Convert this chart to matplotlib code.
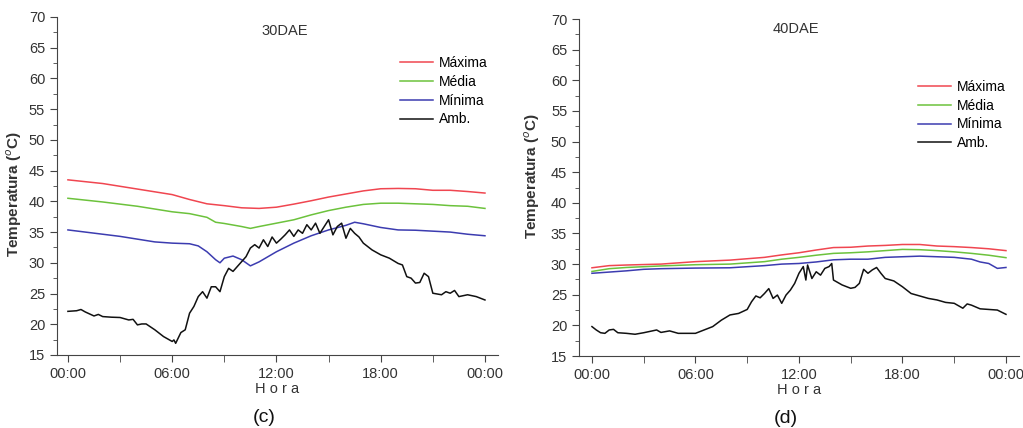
import matplotlib.pyplot as plt
from matplotlib.ticker import MultipleLocator, FixedLocator

plt.rcParams['font.family'] = ['Liberation Sans', 'DejaVu Sans']

# ---- 30DAE (c) ----
t_c_max = [0, 2, 4, 6, 7, 8, 9, 10, 11, 12, 13, 14, 15, 16, 17, 18, 19, 20, 21, 22, 23, 24]
c_max = [43.5, 42.9, 42.0, 41.1, 40.3, 39.6, 39.3, 38.95, 38.85, 39.05, 39.55, 40.1,
         40.7, 41.2, 41.7, 42.05, 42.1, 42.05, 41.8, 41.8, 41.6, 41.35]

t_c_med = [0, 2, 4, 6, 7, 8, 8.5, 9, 10, 10.5, 11, 12, 13, 14, 15, 16, 17, 18, 19, 20, 21, 22, 23, 24]
c_med = [40.5, 39.9, 39.2, 38.3, 38.0, 37.4, 36.6, 36.4, 35.9, 35.6, 35.9, 36.45, 37.0,
         37.8, 38.5, 39.05, 39.5, 39.7, 39.7, 39.6, 39.5, 39.3, 39.2, 38.85]

t_c_min = [0, 1, 2, 3, 4, 5, 6, 7, 7.5, 8, 8.5, 8.75, 9, 9.5, 10, 10.5, 11, 12, 13, 14,
           15, 16, 16.5, 17, 18, 19, 20, 21, 22, 23, 24]
c_min = [35.35, 35.0, 34.65, 34.3, 33.85, 33.4, 33.2, 33.1, 32.75, 31.8, 30.5, 30.0,
         30.75, 31.1, 30.5, 29.5, 30.15, 31.8, 33.2, 34.4, 35.35, 36.1, 36.6, 36.35,
         35.75, 35.35, 35.3, 35.15, 35.0, 34.65, 34.4]

t_c_amb = [0, 0.5, 0.75, 1, 1.5, 1.75, 2, 2.5, 3, 3.5, 3.75, 4, 4.25, 4.5, 5, 5.5, 6, 6.1,
           6.2, 6.5, 6.75, 7, 7.25, 7.5, 7.75, 8, 8.25, 8.5, 8.75, 9, 9.25, 9.5, 9.75, 10,
           10.25, 10.5, 10.75, 11, 11.25, 11.5, 11.75, 12, 12.25, 12.5, 12.75, 13, 13.25,
           13.5, 13.75, 14, 14.25, 14.5, 14.75, 15, 15.25, 15.5, 15.75, 16, 16.25, 16.5,
           16.75, 17, 17.5, 18, 18.5, 19, 19.25, 19.5, 19.75, 20, 20.25, 20.5, 20.75, 21,
           21.5, 21.75, 22, 22.25, 22.5, 23, 23.5, 24]
c_amb = [22.1, 22.2, 22.4, 22.0, 21.35, 21.6, 21.25, 21.15, 21.1, 20.7, 20.8, 19.9, 20.05,
         20.05, 19.1, 18.0, 17.2, 17.45, 16.9, 18.65, 19.1, 21.8, 22.9, 24.5, 25.3, 24.25,
         26.1, 26.1, 25.3, 27.75, 29.1, 28.6, 29.4, 30.2, 31.0, 32.4, 32.95, 32.4, 33.75,
         32.65, 34.2, 33.2, 33.85, 34.55, 35.35, 34.3, 35.35, 34.8, 36.2, 35.35, 36.45,
         34.8, 35.9, 37.0, 34.55, 35.9, 36.45, 34.0, 35.6, 34.8, 34.2, 33.2, 32.1, 31.3,
         30.75, 29.9, 29.65, 27.75, 27.5, 26.7, 26.8, 28.3, 27.75, 25.05, 24.8, 25.3,
         25.05, 25.5, 24.5, 24.8, 24.5, 23.95]

# ---- 40DAE (d) ----
t_d_max = [0, 1, 2, 4, 6, 8, 10, 11, 12, 13, 14, 15, 16, 17, 18, 19, 20, 21, 22, 23, 24]
d_max = [29.4, 29.75, 29.85, 30.0, 30.4, 30.65, 31.1, 31.5, 31.85, 32.3, 32.7, 32.75,
         32.95, 33.05, 33.2, 33.2, 32.95, 32.85, 32.7, 32.5, 32.2]

t_d_med = [0, 1, 2, 4, 6, 8, 10, 11, 12, 13, 14, 15, 16, 17, 18, 19, 20, 21, 22, 23, 24]
d_med = [28.8, 29.25, 29.45, 29.7, 29.9, 30.0, 30.4, 30.8, 31.1, 31.45, 31.75, 31.85,
         32.0, 32.2, 32.4, 32.35, 32.2, 32.0, 31.75, 31.45, 31.05]

t_d_min = [0, 1, 2, 3, 4, 6, 8, 10, 11, 12, 13, 14, 15, 16, 17, 18, 19, 20, 21, 22, 22.5,
           23, 23.5, 24]
d_min = [28.5, 28.7, 28.9, 29.15, 29.25, 29.35, 29.4, 29.75, 30.0, 30.1, 30.35, 30.7,
         30.8, 30.8, 31.1, 31.2, 31.3, 31.2, 31.1, 30.8, 30.35, 30.1, 29.3, 29.45]

t_d_amb = [0, 0.25, 0.5, 0.75, 1, 1.25, 1.5, 2, 2.5, 3, 3.5, 3.75, 4, 4.5, 5, 5.5, 6, 6.5,
           7, 7.5, 8, 8.5, 9, 9.25, 9.5, 9.75, 10, 10.25, 10.5, 10.75, 11, 11.25, 11.5,
           11.75, 12, 12.25, 12.4, 12.5, 12.75, 13, 13.25, 13.5, 13.75, 13.9, 14, 14.5, 15,
           15.25, 15.5, 15.75, 16, 16.25, 16.5, 16.75, 17, 17.5, 18, 18.5, 19, 19.5, 20,
           20.5, 21, 21.5, 21.75, 22, 22.5, 23, 23.5, 24]
d_amb = [19.8, 19.25, 18.8, 18.7, 19.25, 19.35, 18.8, 18.7, 18.55, 18.8, 19.1, 19.25,
         18.85, 19.1, 18.7, 18.7, 18.7, 19.25, 19.8, 20.85, 21.7, 21.95, 22.6, 23.85, 24.8,
         24.5, 25.2, 26.0, 24.4, 24.95, 23.6, 24.95, 25.75, 26.85, 28.5, 29.6, 27.4, 29.85,
         27.65, 28.75, 28.2, 29.3, 29.6, 30.1, 27.4, 26.6, 26.05, 26.2, 26.85, 29.15, 28.5,
         29.05, 29.45, 28.5, 27.65, 27.25, 26.3, 25.2, 24.8, 24.4, 24.15, 23.75, 23.6, 22.8,
         23.5, 23.3, 22.7, 22.6, 22.5, 21.8]

labels = ['Máxima', 'Média', 'Mínima', 'Amb.']
colors = ['#f04650', '#6cc23c', '#3c3cb0', '#111111']
hour_ticks = [0, 6, 12, 18, 24]
hour_labels = ['00:00', '06:00', '12:00', '18:00', '00:00']

fig = plt.figure(figsize=(10.23, 4.28), dpi=100)
ax_c = fig.add_axes([0.0557, 0.1706, 0.4311, 0.7897])
ax_d = fig.add_axes([0.566, 0.1682, 0.430, 0.7874])

# axes, title, tag, x start, series, legend anchor, title pos, ylabel pos
panels = [
    (ax_c, '30DAE', '(c)', -0.63,
     [(t_c_max, c_max), (t_c_med, c_med), (t_c_min, c_min), (t_c_amb, c_amb)],
     (0.778, 0.885), (0.517, 0.96), (-0.075, 0.476)),
    (ax_d, '40DAE', '(d)', -0.75,
     [(t_d_max, d_max), (t_d_med, d_med), (t_d_min, d_min), (t_d_amb, d_amb)],
     (0.77, 0.82), (0.493, 0.97), (-0.084, 0.534)),
]

for ax, title, tag, x0, series, leg_pos, tpos, ypos in panels:
    for (t, v), lab, col in zip(series, labels, colors):
        ax.plot(t, v, color=col, lw=1.1, label=lab)
    ax.set_xlim(x0, 24.75)
    ax.set_ylim(15, 70)
    for s in ['top', 'right']:
        ax.spines[s].set_visible(False)
    for s in ['left', 'bottom']:
        ax.spines[s].set_color('#444444')
    ax.xaxis.set_major_locator(FixedLocator(hour_ticks))
    ax.set_xticklabels(hour_labels)
    ax.xaxis.set_minor_locator(MultipleLocator(3))
    ax.yaxis.set_major_locator(MultipleLocator(5))
    ax.yaxis.set_minor_locator(MultipleLocator(2.5))
    ax.tick_params(axis='both', which='major', direction='out', length=5,
                   labelsize=10.5, colors='#444444', labelcolor='#333333')
    ax.tick_params(axis='y', which='minor', direction='out', length=3, colors='#444444')
    ax.tick_params(axis='x', which='minor', direction='out', length=5, colors='#444444')
    ax.set_xlabel('H o r a', fontsize=10.5, color='#333333', labelpad=1)
    ax.set_ylabel('Temperatura ($^o$C)', fontsize=11, fontweight='bold', color='#333333')
    ax.yaxis.set_label_coords(*ypos)
    ax.text(tpos[0], tpos[1], title, transform=ax.transAxes, ha='center', va='center',
            fontsize=10.5, color='#333333')
    ax.text(0.47, -0.16, tag, transform=ax.transAxes, ha='center', va='top',
            fontsize=14, color='#111111')
    ax.legend(loc='upper left', bbox_to_anchor=leg_pos, frameon=False,
              fontsize=10, handlelength=2.4, handletextpad=0.4,
              labelspacing=0.35, borderpad=0, borderaxespad=0)

fig.savefig('out.png', dpi=100)
